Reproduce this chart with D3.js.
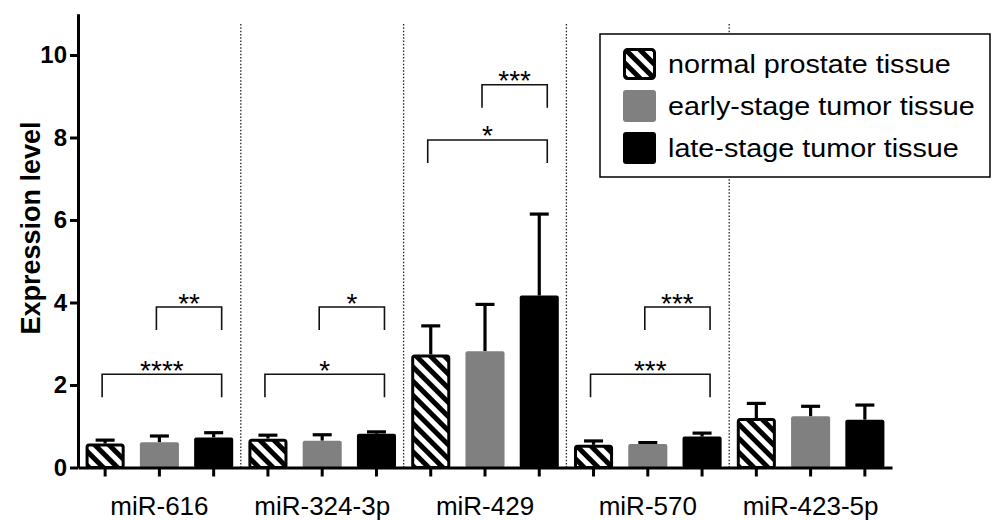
<!DOCTYPE html>
<html>
<head>
<meta charset="utf-8">
<script src="https://cdn.jsdelivr.net/npm/d3@7"></script>
<style>
	body { margin: 0; background: #fff; }
	text { font-family: 'Liberation Sans', Arial, sans-serif; fill: #000; }
</style>
</head>
<body>
<div class="chart"></div>
<script>
const groups = ['miR-616', 'miR-324-3p', 'miR-429', 'miR-570', 'miR-423-5p'];
const series = ['normal prostate tissue', 'early-stage tumor tissue', 'late-stage tumor tissue'];

// mean and upper error (SD) per group
const normalMean = [0.58, 0.70, 2.74, 0.55, 1.20];
const normalErr = [0.12, 0.12, 0.73, 0.13, 0.39];
const earlyMean = [0.61, 0.65, 2.82, 0.57, 1.24];
const earlyErr = [0.19, 0.18, 1.17, 0.07, 0.28];
const lateMean = [0.73, 0.82, 4.17, 0.75, 1.16];
const lateErr = [0.15, 0.08, 2.01, 0.12, 0.39];

const yTicks = [0, 2, 4, 6, 8, 10];

// significance brackets
const sigGroup = [0, 0, 1, 1, 2, 2, 3, 3];
const sigFrom = [1, 0, 1, 0, 1, 0, 1, 0];
const sigTo = [2, 2, 2, 2, 2, 2, 2, 2];
const sigTop = [3.89, 2.26, 3.89, 2.26, 9.28, 7.94, 3.89, 2.26];
const sigLabel = ['**', '****', '*', '*', '***', '*', '***', '***'];

draw();

function draw() {
	const width = 993;
	const height = 521;

	const means = [normalMean, earlyMean, lateMean];
	const errs = [normalErr, earlyErr, lateErr];
	const fills = ['url(#hatch)', '#808080', '#000'];

	const bars = [];
	series.forEach((s, si) => {
		groups.forEach((g, gi) => {
			bars.push({ group: g, series: s, si: si, value: means[si][gi], err: errs[si][gi] });
		});
	});

	const x0 = d3.scaleBand().domain(groups).range([78, 892]);
	const x1 = d3.scaleBand().domain(series).range([0, x0.bandwidth()])
		.paddingInner(0.28).paddingOuter(0.14);
	const y = d3.scaleLinear().domain([0, 11]).range([467.5, 13.75]);

	const cx = (g, s) => x0(g) + x1(s) + x1.bandwidth() / 2;

	const svg = d3.select('.chart')
		.append('svg')
		.attr('width', width)
		.attr('height', height);

	const pat = svg.append('defs').append('pattern')
		.attr('id', 'hatch')
		.attr('patternUnits', 'userSpaceOnUse')
		.attr('width', 10)
		.attr('height', 10)
		.attr('patternTransform', 'rotate(-45)');
	pat.append('rect').attr('width', 10).attr('height', 10).attr('fill', '#fff');
	pat.append('rect').attr('width', 5).attr('height', 10).attr('fill', '#000');

	// dotted separators between groups
	svg.append('g')
		.selectAll('line')
		.data(groups.slice(1))
		.join('line')
		.attr('x1', d => x0(d))
		.attr('x2', d => x0(d))
		.attr('y1', y(10.75))
		.attr('y2', y(0))
		.attr('stroke', '#222')
		.attr('stroke-width', 1.3)
		.attr('stroke-dasharray', '1.5,1.8');

	// error bars
	const eb = svg.append('g')
		.selectAll('g')
		.data(bars)
		.join('g');
	eb.append('line')
		.attr('x1', d => cx(d.group, d.series))
		.attr('x2', d => cx(d.group, d.series))
		.attr('y1', d => y(d.value))
		.attr('y2', d => y(d.value + d.err) + 1.5)
		.attr('stroke', '#000')
		.attr('stroke-width', 3.2);
	eb.append('line')
		.attr('x1', d => cx(d.group, d.series) - 9.5)
		.attr('x2', d => cx(d.group, d.series) + 9.5)
		.attr('y1', d => y(d.value + d.err) + 1.5)
		.attr('y2', d => y(d.value + d.err) + 1.5)
		.attr('stroke', '#000')
		.attr('stroke-width', 3.2);

	// bars
	svg.append('g')
		.selectAll('rect')
		.data(bars)
		.join('rect')
		.attr('x', d => x0(d.group) + x1(d.series) + (d.si === 0 ? 1.5 : 0))
		.attr('y', d => y(d.value) + (d.si === 0 ? 1.5 : 0))
		.attr('width', d => x1.bandwidth() - (d.si === 0 ? 3 : 0))
		.attr('height', d => y(0) - y(d.value) - (d.si === 0 ? 1.5 : 0))
		.attr('rx', 2)
		.attr('fill', d => fills[d.si])
		.attr('stroke', d => d.si === 0 ? '#000' : 'none')
		.attr('stroke-width', 3);

	// axes
	const yAxis = d3.axisLeft(y)
		.tickValues(yTicks)
		.tickSize(8)
		.tickSizeOuter(0)
		.tickPadding(3);
	const gy = svg.append('g')
		.attr('transform', 'translate(78, 0)')
		.call(yAxis);
	gy.selectAll('path, line').attr('stroke', '#000').attr('stroke-width', 3);
	gy.selectAll('text')
		.style('font-size', '24px')
		.style('font-weight', 'bold')
		.attr('font-family', null);

	const xAxis = d3.axisBottom(x0)
		.tickSize(0)
		.tickSizeOuter(0)
		.tickPadding(29);
	const gx = svg.append('g')
		.attr('transform', `translate(0, ${ y(0) })`)
		.call(xAxis);
	gx.select('path').attr('stroke', '#000').attr('stroke-width', 3);
	gx.selectAll('text')
		.style('font-size', '26px')
		.attr('font-family', null);

	svg.append('g')
		.selectAll('line')
		.data(bars)
		.join('line')
		.attr('x1', d => cx(d.group, d.series))
		.attr('x2', d => cx(d.group, d.series))
		.attr('y1', y(0))
		.attr('y2', y(0) + 9)
		.attr('stroke', '#000')
		.attr('stroke-width', 3);

	svg.append('text')
		.attr('transform', 'translate(40, 228) rotate(-90)')
		.attr('text-anchor', 'middle')
		.style('font-size', '27px')
		.style('font-weight', 'bold')
		.text('Expression level');

	// significance brackets
	const sig = sigGroup.map((g, i) => ({
		x1: cx(groups[g], series[sigFrom[i]]) - 3,
		x2: cx(groups[g], series[sigTo[i]]) + 8,
		top: sigTop[i],
		label: sigLabel[i]
	}));
	const sg = svg.append('g')
		.selectAll('g')
		.data(sig)
		.join('g');
	sg.append('path')
		.attr('d', d => `M${ d.x1 },${ y(d.top) + 23 }V${ y(d.top) }H${ d.x2 }V${ y(d.top) + 23 }`)
		.attr('fill', 'none')
		.attr('stroke', '#111')
		.attr('stroke-width', 1.6);
	sg.append('text')
		.attr('x', d => (d.x1 + d.x2) / 2)
		.attr('y', d => y(d.top) + 5.5)
		.attr('text-anchor', 'middle')
		.style('font-size', '28px')
		.text(d => d.label);

	// legend
	const legend = svg.append('g');
	legend.append('rect')
		.attr('x', 600)
		.attr('y', 34)
		.attr('width', 390)
		.attr('height', 143)
		.attr('fill', '#fff')
		.attr('stroke', '#000')
		.attr('stroke-width', 1.5);

	const rowY = d3.scalePoint().domain(series).range([64, 148]);
	const item = legend.selectAll('g.item')
		.data(series)
		.join('g')
		.attr('class', 'item')
		.attr('transform', d => `translate(0, ${ rowY(d) })`);
	item.append('rect')
		.attr('x', (d, i) => i === 0 ? 624.5 : 623)
		.attr('y', (d, i) => i === 0 ? -14.5 : -16)
		.attr('width', (d, i) => i === 0 ? 30 : 33)
		.attr('height', (d, i) => i === 0 ? 29 : 32)
		.attr('rx', 3)
		.attr('fill', (d, i) => fills[i])
		.attr('stroke', (d, i) => i === 0 ? '#000' : 'none')
		.attr('stroke-width', 3);
	item.append('text')
		.attr('transform', 'translate(668, 9) scale(1.15, 1)')
		.style('font-size', '25px')
		.text(d => d);
}
</script>
</body>
</html>
